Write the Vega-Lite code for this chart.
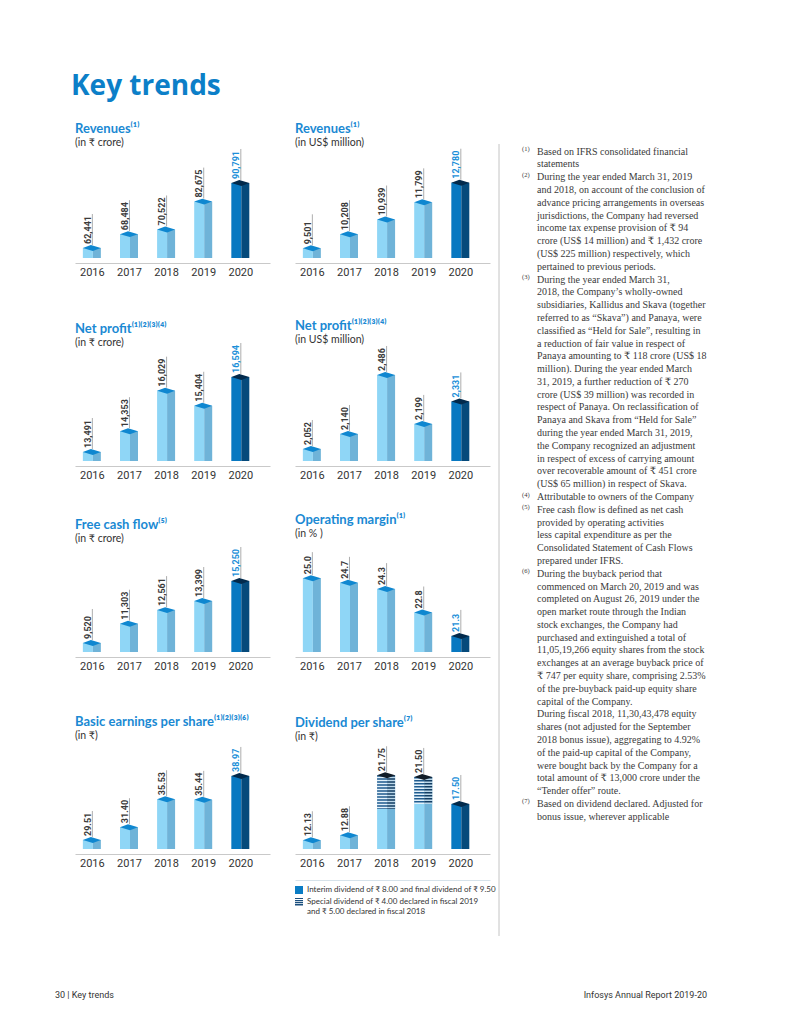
{
  "$schema": "https://vega.github.io/schema/vega-lite/v6.json",
  "background": "white",
  "padding": {"left": 55, "top": 72, "right": 10, "bottom": 10},
  "title": {"text": "Key trends", "anchor": "start", "frame": "bounds", "fontSize": 28, "fontWeight": "bold", "font": "Open Sans", "color": "#0c7fc8", "offset": 22, "dx": 16},
  "columns": 3,
  "align": "each",
  "bounds": "flush",
  "spacing": {"row": 80, "column": 25},
  "concat": [
    {
      "width": 195, "height": 114,
      "title": {"text": "Revenues⁽¹⁾", "subtitle": "(in ₹ crore)", "offset": -4},
      "data": {"values": [{"year": 2016, "value": 62441}, {"year": 2017, "value": 68484}, {"year": 2018, "value": 70522}, {"year": 2019, "value": 82675}, {"year": 2020, "value": 90791}]},
      "encoding": {
        "x": {"field": "year", "type": "quantitative", "scale": {"domain": [2015.6805, 2020.665]}, "axis": {"values": [2016, 2017, 2018, 2019, 2020], "format": "d", "title": null}},
        "y": {"field": "value", "type": "quantitative", "scale": {"domain": [58080, 107797], "nice": false}, "axis": null}
      },
      "layer": [
        {"mark": {"type": "bar", "width": 10, "xOffset": -4}, "encoding": {"y2": {"datum": 58080}, "color": {"condition": {"test": "datum.year == 2020", "value": "#0878c1"}, "value": "#8fd6f6"}}},
        {"mark": {"type": "bar", "width": 8, "xOffset": 5}, "encoding": {"y2": {"datum": 58080}, "color": {"condition": {"test": "datum.year == 2020", "value": "#054a7b"}, "value": "#6fb3d8"}}},
        {"mark": {"type": "point", "shape": "M-1,0L-0.11,-0.33L1,0L0.11,0.33Z", "size": 324, "filled": true, "opacity": 1}, "encoding": {"color": {"condition": {"test": "datum.year == 2020", "value": "#022a4c"}, "value": "#0f87d0"}}},
        {"mark": {"type": "rule", "yOffset": -3, "y2Offset": -34, "xOffset": 0.5, "strokeWidth": 0.7, "color": "#8a8a8a"}, "encoding": {"y2": {"field": "value"}}},
        {"mark": {"type": "text", "angle": 270, "align": "left", "baseline": "middle", "xOffset": -4, "yOffset": -4, "font": "Roboto", "fontSize": 9, "fontWeight": "bold"}, "encoding": {"text": {"field": "value", "format": ",d"}, "color": {"condition": {"test": "datum.year == 2020", "value": "#1b8fd9"}, "value": "#3a3a3a"}}}
      ]
    },
    {
      "width": 195, "height": 114,
      "title": {"text": "Revenues⁽¹⁾", "subtitle": "(in US$ million)", "offset": -4},
      "data": {"values": [{"year": 2016, "value": 9501}, {"year": 2017, "value": 10208}, {"year": 2018, "value": 10939}, {"year": 2019, "value": 11799}, {"year": 2020, "value": 12780}]},
      "encoding": {
        "x": {"field": "year", "type": "quantitative", "scale": {"domain": [2015.6805, 2020.665]}, "axis": {"values": [2016, 2017, 2018, 2019, 2020], "format": "d", "title": null}},
        "y": {"field": "value", "type": "quantitative", "scale": {"domain": [9016, 14716], "nice": false}, "axis": null}
      },
      "layer": [
        {"mark": {"type": "bar", "width": 10, "xOffset": -4}, "encoding": {"y2": {"datum": 9016}, "color": {"condition": {"test": "datum.year == 2020", "value": "#0878c1"}, "value": "#8fd6f6"}}},
        {"mark": {"type": "bar", "width": 8, "xOffset": 5}, "encoding": {"y2": {"datum": 9016}, "color": {"condition": {"test": "datum.year == 2020", "value": "#054a7b"}, "value": "#6fb3d8"}}},
        {"mark": {"type": "point", "shape": "M-1,0L-0.11,-0.33L1,0L0.11,0.33Z", "size": 324, "filled": true, "opacity": 1}, "encoding": {"color": {"condition": {"test": "datum.year == 2020", "value": "#022a4c"}, "value": "#0f87d0"}}},
        {"mark": {"type": "rule", "yOffset": -3, "y2Offset": -34, "xOffset": 0.5, "strokeWidth": 0.7, "color": "#8a8a8a"}, "encoding": {"y2": {"field": "value"}}},
        {"mark": {"type": "text", "angle": 270, "align": "left", "baseline": "middle", "xOffset": -4, "yOffset": -4, "font": "Roboto", "fontSize": 9, "fontWeight": "bold"}, "encoding": {"text": {"field": "value", "format": ",d"}, "color": {"condition": {"test": "datum.year == 2020", "value": "#1b8fd9"}, "value": "#3a3a3a"}}}
      ]
    },
    {
      "width": 192, "height": 114,
      "data": {"values": [
        {"line": 0, "note": "(1)", "text": "Based on IFRS consolidated financial"},
        {"line": 1, "text": "statements"},
        {"line": 2, "note": "(2)", "text": "During the year ended March 31, 2019"},
        {"line": 3, "text": "and 2018, on account of the conclusion of"},
        {"line": 4, "text": "advance pricing arrangements in overseas"},
        {"line": 5, "text": "jurisdictions, the Company had reversed"},
        {"line": 6, "text": "income tax expense provision of ₹ 94"},
        {"line": 7, "text": "crore (US$ 14 million) and ₹ 1,432 crore"},
        {"line": 8, "text": "(US$ 225 million) respectively, which"},
        {"line": 9, "text": "pertained to previous periods."},
        {"line": 10, "note": "(3)", "text": "During the year ended March 31,"},
        {"line": 11, "text": "2018, the Company’s wholly-owned"},
        {"line": 12, "text": "subsidiaries, Kallidus and Skava (together"},
        {"line": 13, "text": "referred to as “Skava”) and Panaya, were"},
        {"line": 14, "text": "classified as “Held for Sale”, resulting in"},
        {"line": 15, "text": "a reduction of fair value in respect of"},
        {"line": 16, "text": "Panaya amounting to ₹ 118 crore (US$ 18"},
        {"line": 17, "text": "million). During the year ended March"},
        {"line": 18, "text": "31, 2019, a further reduction of ₹ 270"},
        {"line": 19, "text": "crore (US$ 39 million) was recorded in"},
        {"line": 20, "text": "respect of Panaya. On reclassification of"},
        {"line": 21, "text": "Panaya and Skava from “Held for Sale”"},
        {"line": 22, "text": "during the year ended March 31, 2019,"},
        {"line": 23, "text": "the Company recognized an adjustment"},
        {"line": 24, "text": "in respect of excess of carrying amount"},
        {"line": 25, "text": "over recoverable amount of ₹ 451 crore"},
        {"line": 26, "text": "(US$ 65 million) in respect of Skava."},
        {"line": 27, "note": "(4)", "text": "Attributable to owners of the Company"},
        {"line": 28, "note": "(5)", "text": "Free cash flow is defined as net cash"},
        {"line": 29, "text": "provided by operating activities"},
        {"line": 30, "text": "less capital expenditure as per the"},
        {"line": 31, "text": "Consolidated Statement of Cash Flows"},
        {"line": 32, "text": "prepared under IFRS."},
        {"line": 33, "note": "(6)", "text": "During the buyback period that"},
        {"line": 34, "text": "commenced on March 20, 2019 and was"},
        {"line": 35, "text": "completed on August 26, 2019 under the"},
        {"line": 36, "text": "open market route through the Indian"},
        {"line": 37, "text": "stock exchanges, the Company had"},
        {"line": 38, "text": "purchased and extinguished a total of"},
        {"line": 39, "text": "11,05,19,266 equity shares from the stock"},
        {"line": 40, "text": "exchanges at an average buyback price of"},
        {"line": 41, "text": "₹ 747 per equity share, comprising 2.53%"},
        {"line": 42, "text": "of the pre-buyback paid-up equity share"},
        {"line": 43, "text": "capital of the Company."},
        {"line": 44, "text": "During fiscal 2018, 11,30,43,478 equity"},
        {"line": 45, "text": "shares (not adjusted for the September"},
        {"line": 46, "text": "2018 bonus issue), aggregating to 4.92%"},
        {"line": 47, "text": "of the paid-up capital of the Company,"},
        {"line": 48, "text": "were bought back by the Company for a"},
        {"line": 49, "text": "total amount of ₹ 13,000 crore under the"},
        {"line": 50, "text": "“Tender offer” route."},
        {"line": 51, "note": "(7)", "text": "Based on dividend declared. Adjusted for"},
        {"line": 52, "text": "bonus issue, wherever applicable"}
      ]},
      "encoding": {
        "x": {"datum": 0, "type": "quantitative", "scale": {"domain": [0, 1], "nice": false}, "axis": null}
      },
      "layer": [
        {"data": {"values": [{"from": -0.6, "to": 61.32}]}, "mark": {"type": "rule", "xOffset": -16, "strokeWidth": 1, "color": "#c4c4c4"}, "encoding": {"y": {"field": "from", "type": "quantitative", "scale": {"domain": [-0.6, 8.313], "reverse": true, "nice": false, "zero": false}, "axis": null}, "y2": {"field": "to"}}},
        {"mark": {"type": "text", "align": "left", "baseline": "middle", "dx": 22, "font": "Liberation Serif, DejaVu Serif, Noto Sans", "fontSize": 10, "color": "#3a3a3a"}, "encoding": {"y": {"field": "line", "type": "quantitative", "scale": {"domain": [-0.6, 8.313], "reverse": true, "nice": false, "zero": false}, "axis": null}, "text": {"field": "text"}}},
        {"transform": [{"filter": "isValid(datum.note)"}], "mark": {"type": "text", "align": "left", "baseline": "middle", "dx": 7, "dy": -2.5, "font": "Liberation Serif, DejaVu Serif", "fontSize": 6.5, "color": "#3a3a3a"}, "encoding": {"y": {"field": "line", "type": "quantitative", "scale": {"domain": [-0.6, 8.313], "reverse": true, "nice": false, "zero": false}, "axis": null}, "text": {"field": "note"}}}
      ]
    },
    {
      "width": 195, "height": 123,
      "title": {"text": "Net profit⁽¹⁾⁽²⁾⁽³⁾⁽⁴⁾", "subtitle": "(in ₹ crore)", "offset": -10},
      "data": {"values": [{"year": 2016, "value": 13491}, {"year": 2017, "value": 14353}, {"year": 2018, "value": 16029}, {"year": 2019, "value": 15404}, {"year": 2020, "value": 16594}]},
      "encoding": {
        "x": {"field": "year", "type": "quantitative", "scale": {"domain": [2015.6805, 2020.665]}, "axis": {"values": [2016, 2017, 2018, 2019, 2020], "format": "d", "title": null}},
        "y": {"field": "value", "type": "quantitative", "scale": {"domain": [13119, 18208], "nice": false}, "axis": null}
      },
      "layer": [
        {"mark": {"type": "bar", "width": 10, "xOffset": -4}, "encoding": {"y2": {"datum": 13119}, "color": {"condition": {"test": "datum.year == 2020", "value": "#0878c1"}, "value": "#8fd6f6"}}},
        {"mark": {"type": "bar", "width": 8, "xOffset": 5}, "encoding": {"y2": {"datum": 13119}, "color": {"condition": {"test": "datum.year == 2020", "value": "#054a7b"}, "value": "#6fb3d8"}}},
        {"mark": {"type": "point", "shape": "M-1,0L-0.11,-0.33L1,0L0.11,0.33Z", "size": 324, "filled": true, "opacity": 1}, "encoding": {"color": {"condition": {"test": "datum.year == 2020", "value": "#022a4c"}, "value": "#0f87d0"}}},
        {"mark": {"type": "rule", "yOffset": -3, "y2Offset": -34, "xOffset": 0.5, "strokeWidth": 0.7, "color": "#8a8a8a"}, "encoding": {"y2": {"field": "value"}}},
        {"mark": {"type": "text", "angle": 270, "align": "left", "baseline": "middle", "xOffset": -4, "yOffset": -4, "font": "Roboto", "fontSize": 9, "fontWeight": "bold"}, "encoding": {"text": {"field": "value", "format": ",d"}, "color": {"condition": {"test": "datum.year == 2020", "value": "#1b8fd9"}, "value": "#3a3a3a"}}}
      ]
    },
    {
      "width": 195, "height": 123,
      "title": {"text": "Net profit⁽¹⁾⁽²⁾⁽³⁾⁽⁴⁾", "subtitle": "(in US$ million)", "offset": -7},
      "data": {"values": [{"year": 2016, "value": 2052}, {"year": 2017, "value": 2140}, {"year": 2018, "value": 2486}, {"year": 2019, "value": 2199}, {"year": 2020, "value": 2331}]},
      "encoding": {
        "x": {"field": "year", "type": "quantitative", "scale": {"domain": [2015.6805, 2020.665]}, "axis": {"values": [2016, 2017, 2018, 2019, 2020], "format": "d", "title": null}},
        "y": {"field": "value", "type": "quantitative", "scale": {"domain": [1981.6, 2703], "nice": false}, "axis": null}
      },
      "layer": [
        {"mark": {"type": "bar", "width": 10, "xOffset": -4}, "encoding": {"y2": {"datum": 1981.6}, "color": {"condition": {"test": "datum.year == 2020", "value": "#0878c1"}, "value": "#8fd6f6"}}},
        {"mark": {"type": "bar", "width": 8, "xOffset": 5}, "encoding": {"y2": {"datum": 1981.6}, "color": {"condition": {"test": "datum.year == 2020", "value": "#054a7b"}, "value": "#6fb3d8"}}},
        {"mark": {"type": "point", "shape": "M-1,0L-0.11,-0.33L1,0L0.11,0.33Z", "size": 324, "filled": true, "opacity": 1}, "encoding": {"color": {"condition": {"test": "datum.year == 2020", "value": "#022a4c"}, "value": "#0f87d0"}}},
        {"mark": {"type": "rule", "yOffset": -3, "y2Offset": -29, "xOffset": 0.5, "strokeWidth": 0.7, "color": "#8a8a8a"}, "encoding": {"y2": {"field": "value"}}},
        {"mark": {"type": "text", "angle": 270, "align": "left", "baseline": "middle", "xOffset": -4, "yOffset": -4, "font": "Roboto", "fontSize": 9, "fontWeight": "bold"}, "encoding": {"text": {"field": "value", "format": ",d"}, "color": {"condition": {"test": "datum.year == 2020", "value": "#1b8fd9"}, "value": "#3a3a3a"}}}
      ]
    },
    {"width": 192, "height": 10, "data": {"values": []}, "mark": {"type": "point"}},
    {
      "width": 195, "height": 111,
      "title": {"text": "Free cash flow⁽⁵⁾", "subtitle": "(in ₹ crore)", "offset": -3},
      "data": {"values": [{"year": 2016, "value": 9520}, {"year": 2017, "value": 11303}, {"year": 2018, "value": 12561}, {"year": 2019, "value": 13399}, {"year": 2020, "value": 15250}]},
      "encoding": {
        "x": {"field": "year", "type": "quantitative", "scale": {"domain": [2015.6805, 2020.665]}, "axis": {"values": [2016, 2017, 2018, 2019, 2020], "format": "d", "title": null}},
        "y": {"field": "value", "type": "quantitative", "scale": {"domain": [8688, 18947], "nice": false}, "axis": null}
      },
      "layer": [
        {"mark": {"type": "bar", "width": 10, "xOffset": -4}, "encoding": {"y2": {"datum": 8688}, "color": {"condition": {"test": "datum.year == 2020", "value": "#0878c1"}, "value": "#8fd6f6"}}},
        {"mark": {"type": "bar", "width": 8, "xOffset": 5}, "encoding": {"y2": {"datum": 8688}, "color": {"condition": {"test": "datum.year == 2020", "value": "#054a7b"}, "value": "#6fb3d8"}}},
        {"mark": {"type": "point", "shape": "M-1,0L-0.11,-0.33L1,0L0.11,0.33Z", "size": 324, "filled": true, "opacity": 1}, "encoding": {"color": {"condition": {"test": "datum.year == 2020", "value": "#022a4c"}, "value": "#0f87d0"}}},
        {"mark": {"type": "rule", "yOffset": -3, "y2Offset": -34, "xOffset": 0.5, "strokeWidth": 0.7, "color": "#8a8a8a"}, "encoding": {"y2": {"field": "value"}}},
        {"mark": {"type": "text", "angle": 270, "align": "left", "baseline": "middle", "xOffset": -4, "yOffset": -4, "font": "Roboto", "fontSize": 9, "fontWeight": "bold"}, "encoding": {"text": {"field": "value", "format": ",d"}, "color": {"condition": {"test": "datum.year == 2020", "value": "#1b8fd9"}, "value": "#3a3a3a"}}}
      ]
    },
    {
      "width": 195, "height": 111,
      "title": {"text": "Operating margin⁽¹⁾", "subtitle": "(in % )", "offset": 2},
      "data": {"values": [{"year": 2016, "value": 25.0}, {"year": 2017, "value": 24.7}, {"year": 2018, "value": 24.3}, {"year": 2019, "value": 22.8}, {"year": 2020, "value": 21.3}]},
      "encoding": {
        "x": {"field": "year", "type": "quantitative", "scale": {"domain": [2015.6805, 2020.665]}, "axis": {"values": [2016, 2017, 2018, 2019, 2020], "format": "d", "title": null}},
        "y": {"field": "value", "type": "quantitative", "scale": {"domain": [20.27, 27.38], "nice": false}, "axis": null}
      },
      "layer": [
        {"mark": {"type": "bar", "width": 10, "xOffset": -4}, "encoding": {"y2": {"datum": 20.27}, "color": {"condition": {"test": "datum.year == 2020", "value": "#0878c1"}, "value": "#8fd6f6"}}},
        {"mark": {"type": "bar", "width": 8, "xOffset": 5}, "encoding": {"y2": {"datum": 20.27}, "color": {"condition": {"test": "datum.year == 2020", "value": "#054a7b"}, "value": "#6fb3d8"}}},
        {"mark": {"type": "point", "shape": "M-1,0L-0.11,-0.33L1,0L0.11,0.33Z", "size": 324, "filled": true, "opacity": 1}, "encoding": {"color": {"condition": {"test": "datum.year == 2020", "value": "#022a4c"}, "value": "#0f87d0"}}},
        {"mark": {"type": "rule", "yOffset": -3, "y2Offset": -26, "xOffset": 0.5, "strokeWidth": 0.7, "color": "#8a8a8a"}, "encoding": {"y2": {"field": "value"}}},
        {"mark": {"type": "text", "angle": 270, "align": "left", "baseline": "middle", "xOffset": -4, "yOffset": -4, "font": "Roboto", "fontSize": 9, "fontWeight": "bold"}, "encoding": {"text": {"field": "value", "format": ".1f"}, "color": {"condition": {"test": "datum.year == 2020", "value": "#1b8fd9"}, "value": "#3a3a3a"}}}
      ]
    },
    {"width": 192, "height": 10, "data": {"values": []}, "mark": {"type": "point"}},
    {
      "width": 195, "height": 117,
      "title": {"text": "Basic earnings per share⁽¹⁾⁽²⁾⁽³⁾⁽⁶⁾", "subtitle": "(in ₹)", "offset": -9},
      "data": {"values": [{"year": 2016, "value": 29.51}, {"year": 2017, "value": 31.40}, {"year": 2018, "value": 35.53}, {"year": 2019, "value": 35.44}, {"year": 2020, "value": 38.97}]},
      "encoding": {
        "x": {"field": "year", "type": "quantitative", "scale": {"domain": [2015.6805, 2020.665]}, "axis": {"values": [2016, 2017, 2018, 2019, 2020], "format": "d", "title": null}},
        "y": {"field": "value", "type": "quantitative", "scale": {"domain": [28.18, 45.46], "nice": false}, "axis": null}
      },
      "layer": [
        {"mark": {"type": "bar", "width": 10, "xOffset": -4}, "encoding": {"y2": {"datum": 28.18}, "color": {"condition": {"test": "datum.year == 2020", "value": "#0878c1"}, "value": "#8fd6f6"}}},
        {"mark": {"type": "bar", "width": 8, "xOffset": 5}, "encoding": {"y2": {"datum": 28.18}, "color": {"condition": {"test": "datum.year == 2020", "value": "#054a7b"}, "value": "#6fb3d8"}}},
        {"mark": {"type": "point", "shape": "M-1,0L-0.11,-0.33L1,0L0.11,0.33Z", "size": 324, "filled": true, "opacity": 1}, "encoding": {"color": {"condition": {"test": "datum.year == 2020", "value": "#022a4c"}, "value": "#0f87d0"}}},
        {"mark": {"type": "rule", "yOffset": -3, "y2Offset": -29, "xOffset": 0.5, "strokeWidth": 0.7, "color": "#8a8a8a"}, "encoding": {"y2": {"field": "value"}}},
        {"mark": {"type": "text", "angle": 270, "align": "left", "baseline": "middle", "xOffset": -4, "yOffset": -4, "font": "Roboto", "fontSize": 9, "fontWeight": "bold"}, "encoding": {"text": {"field": "value", "format": ".2f"}, "color": {"condition": {"test": "datum.year == 2020", "value": "#1b8fd9"}, "value": "#3a3a3a"}}}
      ]
    },
    {
      "width": 195, "height": 117,
      "title": {"text": "Dividend per share⁽⁷⁾", "subtitle": "(in ₹)", "offset": -10},
      "encoding": {
        "x": {"field": "year", "type": "quantitative", "scale": {"domain": [2015.6805, 2020.665]}, "axis": {"values": [2016, 2017, 2018, 2019, 2020], "format": "d", "title": null}},
        "y": {"field": "value", "type": "quantitative", "scale": {"domain": [10.84, 28.15], "nice": false}, "axis": null}
      },
      "resolve": {"scale": {"x": "independent"}, "axis": {"x": "independent"}},
      "layer": [
        {
          "data": {"values": [{"year": 2016, "value": 12.13}, {"year": 2017, "value": 12.88}, {"year": 2018, "value": 21.75, "regular": 16.75}, {"year": 2019, "value": 21.50, "regular": 17.50}, {"year": 2020, "value": 17.50}]},
          "layer": [
            {"mark": {"type": "bar", "width": 10, "xOffset": -4}, "encoding": {"y2": {"datum": 10.84}, "color": {"condition": {"test": "datum.year == 2020", "value": "#0878c1"}, "value": "#8fd6f6"}}},
            {"mark": {"type": "bar", "width": 8, "xOffset": 5}, "encoding": {"y2": {"datum": 10.84}, "color": {"condition": {"test": "datum.year == 2020", "value": "#054a7b"}, "value": "#6fb3d8"}}},
            {"transform": [{"filter": "isValid(datum.regular)"}], "mark": {"type": "bar", "width": 10, "xOffset": -4}, "encoding": {"y2": {"field": "regular"}, "color": {"value": "#e4f2fb"}}},
            {"transform": [{"filter": "isValid(datum.regular)"}], "mark": {"type": "bar", "width": 8, "xOffset": 5}, "encoding": {"y2": {"field": "regular"}, "color": {"value": "#bcd8ea"}}},
            {"transform": [{"filter": "isValid(datum.regular)"}], "mark": {"type": "rule", "xOffset": -4, "strokeWidth": 10, "strokeDash": [1.6, 1.4], "strokeCap": "butt", "color": "#1f5b8e"}, "encoding": {"y2": {"field": "regular"}}},
            {"transform": [{"filter": "isValid(datum.regular)"}], "mark": {"type": "rule", "xOffset": 5, "strokeWidth": 8, "strokeDash": [1.6, 1.4], "strokeCap": "butt", "color": "#123d63"}, "encoding": {"y2": {"field": "regular"}}},
            {"mark": {"type": "point", "shape": "M-1,0L-0.11,-0.33L1,0L0.11,0.33Z", "size": 324, "filled": true, "opacity": 1}, "encoding": {"color": {"condition": [{"test": "datum.year == 2020", "value": "#022a4c"}, {"test": "datum.year >= 2018", "value": "#101c28"}], "value": "#0f87d0"}}},
            {"mark": {"type": "rule", "yOffset": -3, "y2Offset": -29, "xOffset": 0.5, "strokeWidth": 0.7, "color": "#8a8a8a"}, "encoding": {"y2": {"field": "value"}}},
            {"mark": {"type": "text", "angle": 270, "align": "left", "baseline": "middle", "xOffset": -4, "yOffset": -4, "font": "Roboto", "fontSize": 9, "fontWeight": "bold"}, "encoding": {"text": {"field": "value", "format": ".2f"}, "color": {"condition": {"test": "datum.year == 2020", "value": "#1b8fd9"}, "value": "#3a3a3a"}}}
          ]
        },
        {
          "data": {"values": [{"kind": "Interim dividend of ₹ 8.00 and final dividend of ₹ 9.50"}, {"kind": "Special dividend of ₹ 4.00 declared in fiscal 2019|and ₹ 5.00 declared in fiscal 2018"}]},
          "transform": [{"filter": "datum.kind == 'legend only'"}],
          "mark": {"type": "point", "filled": true, "opacity": 1},
          "encoding": {
            "x": {"field": "year", "type": "quantitative", "scale": {"domain": [2015.6805, 2020.665]}, "axis": {"orient": "bottom", "offset": 31, "values": [], "labels": false, "domainColor": "#d6e2ea", "title": null}},
            "color": {"field": "kind", "type": "nominal", "scale": {"domain": ["Interim dividend of ₹ 8.00 and final dividend of ₹ 9.50", "Special dividend of ₹ 4.00 declared in fiscal 2019|and ₹ 5.00 declared in fiscal 2018"], "range": ["#0a7cc4", "#1b4f7e"]}, "legend": {"orient": "none", "legendX": 220, "legendY": 742, "title": null, "direction": "vertical", "padding": 0, "labelFont": "Lato, Noto Sans", "labelFontSize": 8, "labelColor": "#333333", "symbolSize": 64, "symbolOpacity": 1, "symbolStrokeWidth": 0, "rowPadding": 4, "labelOffset": 4, "labelLimit": 0, "labelExpr": "split(datum.label, '|')"}},
            "shape": {"field": "kind", "type": "nominal", "scale": {"domain": ["Interim dividend of ₹ 8.00 and final dividend of ₹ 9.50", "Special dividend of ₹ 4.00 declared in fiscal 2019|and ₹ 5.00 declared in fiscal 2018"], "range": ["square", "M-1,-1H1V-0.72H-1Z M-1,-0.52H1V-0.24H-1Z M-1,-0.04H1V0.24H-1Z M-1,0.44H1V0.72H-1Z M-1,0.9H1V1H-1Z"]}}
          }
        }
      ]
    },
    {"width": 192, "height": 10, "data": {"values": []}, "mark": {"type": "point"}},
    {
      "width": 195, "height": 132,
      "data": {"values": [{"text": "30 | Key trends"}]},
      "mark": {"type": "text", "align": "left", "baseline": "middle", "dx": -20, "font": "Roboto", "fontSize": 9, "color": "#333333"},
      "encoding": {"x": {"datum": 0, "type": "quantitative", "scale": {"domain": [0, 1]}, "axis": null}, "text": {"field": "text"}}
    },
    {"width": 195, "height": 10, "data": {"values": []}, "mark": {"type": "point"}},
    {
      "width": 192, "height": 132,
      "data": {"values": [{"text": "Infosys Annual Report 2019-20"}]},
      "mark": {"type": "text", "align": "right", "baseline": "middle", "font": "Roboto", "fontSize": 9, "color": "#333333"},
      "encoding": {"x": {"datum": 1, "type": "quantitative", "scale": {"domain": [0, 1]}, "axis": null}, "text": {"field": "text"}}
    }
  ],
  "config": {
    "view": {"stroke": null},
    "title": {"anchor": "start", "frame": "group", "color": "#1a89d3", "font": "Lato, DejaVu Sans", "fontSize": 13, "fontWeight": "bold", "subtitleFont": "Lato, Noto Sans", "subtitleFontSize": 10.5, "subtitleColor": "#333333", "subtitlePadding": 2},
    "axis": {"domainColor": "#c9c9c9", "domainWidth": 1, "ticks": false, "tickSize": 0, "grid": false, "labelFont": "Roboto", "labelFontSize": 11, "labelColor": "#333333", "labelPadding": 3, "labelFlush": false, "labelOverlap": false},
    "axisX": {"offset": 5}
  }
}
